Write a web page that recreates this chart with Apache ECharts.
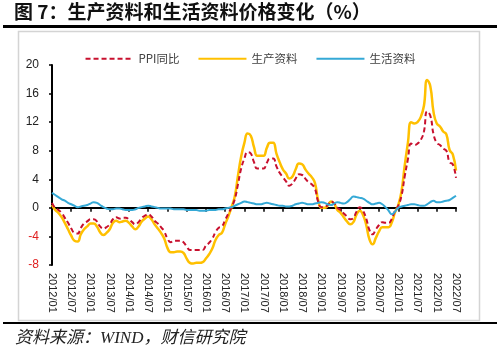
<!DOCTYPE html>
<html><head><meta charset="utf-8">
<script src="https://cdn.jsdelivr.net/npm/echarts@6/dist/echarts.min.js"></script>
<style>html,body{margin:0;padding:0;background:#fff}#c{width:500px;height:349px}</style>
</head><body><div id="c"></div>
<script>
const titleText = '图 7：生产资料和生活资料价格变化（%）';
const sourceText = '资料来源：WIND，财信研究院';
const seriesNames = ['PPI同比', '生产资料', '生活资料'];
const yMin = -8, yMax = 20, yStep = 4;

// monthly categories 2012/01 .. 2022/07
const months = [];
for (let y = 2012; y <= 2022; y++) {
  for (let m = 1; m <= 12; m++) {
    if (y === 2022 && m > 7) break;
    months.push(y + '/' + (m < 10 ? '0' + m : m));
  }
}

const ppi = [
  0.7, 0.0, -0.3, -0.7, -1.4, -2.1, -2.9, -3.5, -3.6, -2.8, -2.2, -1.9,
  -1.6, -1.6, -1.9, -2.6, -2.9, -2.7, -2.3, -1.6, -1.3, -1.5, -1.4, -1.4,
  -1.6, -2.0, -2.3, -2.0, -1.4, -1.1, -0.9, -1.2, -1.8, -2.2, -2.7, -3.3,
  -4.3, -4.8, -4.6, -4.6, -4.6, -4.8, -5.4, -5.9, -5.9, -5.9, -5.9, -5.9,
  -5.3, -4.9, -4.3, -3.4, -2.8, -2.6, -1.7, -0.8, 0.1, 1.2, 3.3, 5.5,
  6.9, 7.8, 7.6, 6.4, 5.5, 5.5, 5.5, 6.3, 6.9, 6.9, 5.8, 4.9,
  4.3, 3.7, 3.1, 3.4, 4.1, 4.7, 4.6, 4.1, 3.6, 3.3, 2.7, 0.9,
  0.1, 0.1, 0.4, 0.9, 0.6, 0.0, -0.3, -0.8, -1.2, -1.6, -1.4, -0.5,
  0.1, -0.4, -1.5, -3.1, -3.7, -3.0, -2.4, -2.0, -2.1, -2.1, -1.5, -0.4,
  0.3, 1.7, 4.4, 6.8, 9.0, 8.8, 9.0, 9.5, 10.7, 13.5, 12.9, 10.3,
  9.1, 8.8, 8.3, 8.0, 6.4, 6.1, 4.2
];
const producer = [
  0.4, -0.3, -0.7, -1.3, -2.1, -3.0, -3.9, -4.6, -4.7, -3.7, -3.0, -2.6,
  -2.2, -2.2, -2.6, -3.4, -3.8, -3.5, -3.0, -2.1, -1.8, -2.0, -1.9, -1.8,
  -2.1, -2.6, -3.0, -2.6, -1.9, -1.5, -1.2, -1.6, -2.3, -2.9, -3.5, -4.3,
  -5.6, -6.2, -6.2, -6.1, -6.1, -6.3, -7.1, -7.7, -7.8, -7.7, -7.7, -7.6,
  -7.1, -6.5, -5.7, -4.5, -3.8, -3.5, -2.3, -1.2, 0.1, 1.6, 4.5, 7.2,
  9.1, 10.4, 10.1, 8.5, 7.3, 7.3, 7.3, 8.4, 9.1, 9.1, 7.6, 6.4,
  5.4, 4.8, 4.1, 4.4, 5.4, 6.2, 6.1, 5.4, 4.8, 4.3, 3.5, 1.1,
  0.0, 0.0, 0.3, 0.9, 0.6, -0.3, -0.7, -1.3, -1.9, -2.3, -2.0, -0.9,
  -0.4, -1.0, -2.4, -4.4, -5.1, -4.2, -3.3, -2.7, -2.7, -2.7, -2.0, -0.6,
  0.4, 2.3, 5.9, 9.1, 12.0, 11.8, 12.0, 12.7, 14.3, 17.9, 17.0, 13.4,
  11.8, 11.4, 10.7, 10.3, 8.1, 7.5, 5.2
];
const consumer = [
  2.1, 1.8, 1.5, 1.2, 1.0, 0.7, 0.5, 0.3, 0.1, 0.2, 0.3, 0.4,
  0.6, 0.8, 0.7, 0.4, 0.1, -0.1, -0.2, -0.2, -0.1, -0.1, -0.2, -0.3,
  -0.3, -0.3, -0.2, 0.0, 0.1, 0.2, 0.3, 0.2, 0.1, 0.0, -0.1, -0.1,
  -0.1, -0.1, -0.2, -0.2, -0.2, -0.2, -0.3, -0.3, -0.3, -0.3, -0.4, -0.4,
  -0.4, -0.3, -0.3, -0.3, -0.2, -0.2, -0.1, 0.0, 0.1, 0.3, 0.5, 0.7,
  0.9, 0.8, 0.7, 0.6, 0.5, 0.5, 0.6, 0.7, 0.6, 0.5, 0.4, 0.3,
  0.3, 0.2, 0.2, 0.3, 0.5, 0.6, 0.7, 0.6, 0.5, 0.5, 0.6, 0.7,
  0.8, 0.7, 0.5, 0.4, 0.6, 0.8, 0.7, 0.6, 0.8, 1.2, 1.6, 1.5,
  1.4, 1.3, 1.0, 0.7, 0.5, 0.6, 0.7, 0.5, 0.1, -0.4, -0.9, -0.5,
  0.0, 0.2, 0.3, 0.4, 0.5, 0.5, 0.4, 0.3, 0.3, 0.5, 0.8, 1.0,
  0.8, 0.8, 0.9, 1.0, 1.1, 1.4, 1.7
];

const cjk = '"Noto Sans CJK SC", "Noto Sans", sans-serif';
const latin = '"Liberation Sans", "Noto Sans CJK SC", sans-serif';

const chart = echarts.init(document.getElementById('c'), null, {renderer: 'canvas'});
chart.setOption({
  animation: false,
  backgroundColor: '#fff',
  graphic: [
    {type: 'rect', z: 0, shape: {x: 18.5, y: 31.5, width: 461, height: 289},
     style: {fill: 'none', stroke: '#D4D4D4', lineWidth: 1.5}},
    {type: 'line', z: 1, shape: {x1: 3, y1: 26.5, x2: 497, y2: 26.5},
     style: {stroke: '#000', lineWidth: 3}},
    {type: 'line', z: 1, shape: {x1: 3, y1: 323, x2: 497, y2: 323},
     style: {stroke: '#000', lineWidth: 2}},
    {type: 'text', z: 2, left: 14, top: 2,
     style: {text: titleText, font: 'bold 19px ' + cjk, fill: '#111'}},
    {type: 'text', z: 2, left: 15, top: 330,
     style: {text: sourceText, font: 'italic 17px "Liberation Serif", "Noto Sans CJK SC", serif', fill: '#222'}}
  ],
  legend: {
    data: seriesNames,
    top: 48, left: 'center',
    itemWidth: 48, itemHeight: 10, itemGap: 18,
    itemStyle: {opacity: 0},
    textStyle: {fontSize: 11.5, color: '#404040', fontFamily: cjk}
  },
  grid: {left: 52, right: 44, top: 65, bottom: 84, containLabel: false},
  xAxis: [
    {
      type: 'category', data: months, boundaryGap: false,
      axisLine: {onZero: true, lineStyle: {color: '#000', width: 2}},
      axisTick: {show: true, interval: 5, length: 4, lineStyle: {color: '#000', width: 1.5}},
      axisLabel: {show: false},
      splitLine: {show: false}
    },
    {
      type: 'category', data: months, boundaryGap: false, position: 'bottom',
      axisLine: {show: false, onZero: false},
      axisTick: {show: false},
      axisLabel: {interval: 5, rotate: -90, margin: 8, fontSize: 11, color: '#222', fontFamily: latin},
      splitLine: {show: false}
    }
  ],
  yAxis: {
    type: 'value', min: yMin, max: yMax, interval: yStep,
    axisLine: {show: true, lineStyle: {color: '#000', width: 2}},
    axisTick: {show: true, length: 3, lineStyle: {color: '#000', width: 1.5}},
    axisLabel: {margin: 13, fontSize: 12, fontFamily: latin,
      color: function (v) { return Number(v) < 0 ? '#E02020' : '#222'; }},
    splitLine: {show: false}
  },
  series: [
    {name: seriesNames[0], type: 'line', data: ppi, smooth: true, symbol: 'none', z: 3,
     itemStyle: {color: '#C8102E'},
     lineStyle: {color: '#C8102E', width: 2, type: [5, 3]}},
    {name: seriesNames[1], type: 'line', data: producer, smooth: true, symbol: 'none', z: 2,
     itemStyle: {color: '#FFC000'},
     lineStyle: {color: '#FFC000', width: 2.5}},
    {name: seriesNames[2], type: 'line', data: consumer, smooth: true, symbol: 'none', z: 4,
     itemStyle: {color: '#35A9D6'},
     lineStyle: {color: '#35A9D6', width: 2}}
  ]
});
</script>
</body></html>
